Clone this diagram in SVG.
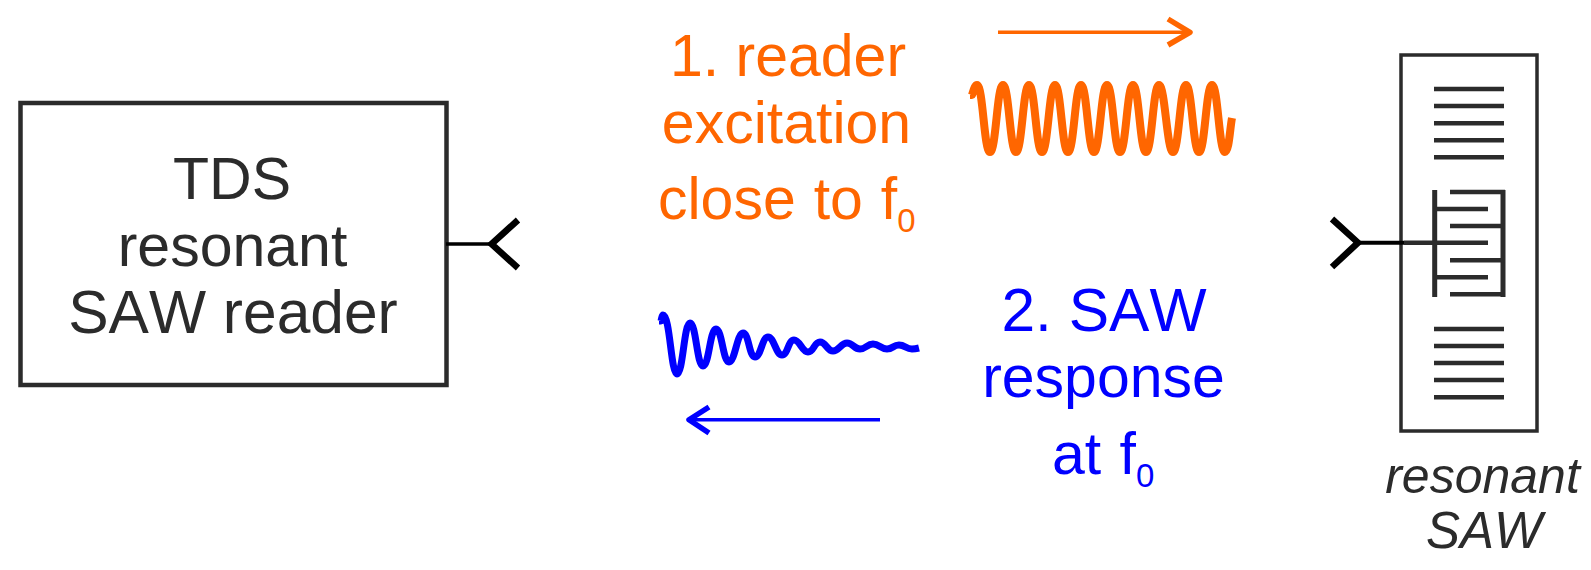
<svg xmlns="http://www.w3.org/2000/svg" width="1591" height="570" viewBox="0 0 1591 570">
<style>
text{font-family:"Liberation Sans",Arial,sans-serif;text-anchor:middle;font-kerning:none}
.big{font-size:59px}
.wide{font-size:60.500px}
.dark{fill:#2b2b2b}.or{fill:#ff6600}.bl{fill:#0000ff}
.it{font-size:50px;font-style:italic}
.sub{font-size:33px}
.st{text-anchor:start}
.g{fill:none;stroke:#2b2b2b}
.k{fill:none;stroke:#000}
.w{fill:none;stroke-linejoin:round}
</style>
<rect width="1591" height="570" fill="#fff"/>
<g id="reader">
<rect x="20.5" y="103" width="426" height="282" fill="#fff" stroke="#2b2b2b" stroke-width="4.500"/>
<text class="big dark" x="232" y="199">TDS</text>
<text class="big dark" x="232.500" y="266">resonant</text>
<text class="wide dark" x="233" y="332.500">SAW reader</text>
</g>
<g id="saw">
<rect x="1401" y="55" width="136" height="376" fill="#fff" stroke="#2b2b2b" stroke-width="3.500"/>
<path class="g" stroke-width="4.500" d="M1434 89H1504M1434 106H1504M1434 123.300H1504M1434 140.300H1504M1434 157.300H1504M1434 329H1504M1434 346H1504M1434 363H1504M1434 380H1504M1434 397.300H1504"/>
<path class="g" stroke-width="5" d="M1434.700 190V297M1503 190V297"/>
<path class="g" stroke-width="4.500" d="M1435 209H1488M1404 242.700H1488M1435 277.300H1488M1450 192H1505M1450 226H1505M1450 260.300H1505M1450 294.300H1505"/>
<text class="it dark" x="1482.500" y="492.700">resonant</text>
<text class="it dark" x="1484" y="548" style="font-size:51px">SAW</text>
</g>
<g id="reader-antenna">
<path class="k" stroke-width="3.500" d="M446 244H491"/>
<path class="k" stroke-width="6.500" d="M518 220L491.500 244L518 268"/>
</g>
<g id="saw-antenna">
<path class="k" stroke-width="4" d="M1358 242.700H1404"/>
<path class="k" stroke-width="6.500" d="M1332 219L1358 242.700L1332 267"/>
</g>
<g id="excitation">
<text class="big or" x="788" y="75.700">1. reader</text>
<text class="big or" x="786.500" y="142.700">excitation</text>
<text class="big or st" x="658" y="219" word-spacing="1.500">close to f<tspan class="sub" dy="13">0</tspan></text>
</g>
<g id="response">
<text class="wide bl" x="1104" y="330.700">2. SAW</text>
<text class="big bl" x="1103.500" y="397">response</text>
<text class="big bl st" x="1052" y="474" word-spacing="2">at f<tspan class="sub" dy="13">0</tspan></text>
</g>
<g id="connectors">
<path class="w" stroke="#ff6600" stroke-width="3.500" d="M998 32.300H1190"/>
<path class="w" stroke="#ff6600" stroke-width="5.500" d="M1168 19L1190 32.300L1168 45"/>
<path class="w" stroke="#ff6600" stroke-width="8" d="M970 95H972C974 89 975 85 977 85C983 85 984 152 990 152S997 85 1003 85S1010 152 1016 152S1023 85 1029 85S1036 152 1042 152S1049 85 1055 85S1062 152 1068 152S1075 85 1081 85S1088 152 1094 152S1101 85 1107 85S1114 152 1120 152S1127 85 1133 85S1140 152 1146 152S1153 85 1159 85S1167 152 1173 152S1180 85 1186 85S1193 152 1199 152S1206 85 1212 85S1219 152 1225 152C1229 152 1230 128 1232 118"/>
<path class="w" stroke="#0000ff" stroke-width="3.500" d="M880 419.700H690"/>
<path class="w" stroke="#0000ff" stroke-width="5.500" d="M709 407L689 419.700L709 433"/>
<path class="w" stroke="#0000ff" stroke-width="7" d="M659 321H661C662 317 662 315 663 315C670 315 671 374 677 374S684 323 690 323S697 366 703 366S710 329 716 329S723 362 729 362S737 333 743 333S749 357 755 357S762 337 768 337S776 355 782 355S788 340 794 340S802 352 808 352S814 342 820 342S827 351 833 351S841 343 847 343S854 349 860 349S867 344 873 344S881 349 887 349S893 345 899 345S906 349 912 349Q915 349 919 348"/>
</g>
</svg>
